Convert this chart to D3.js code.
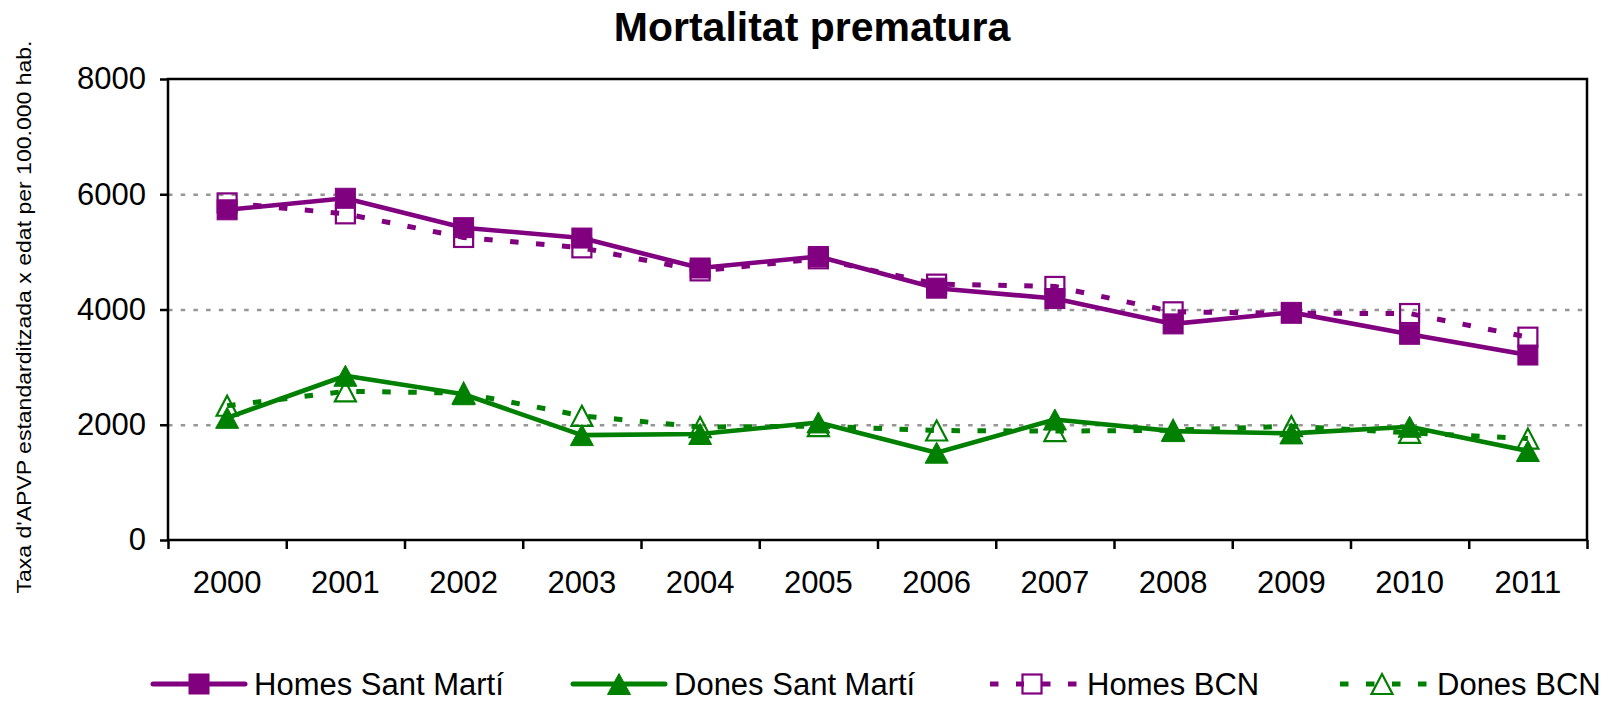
<!DOCTYPE html>
<html>
<head>
<meta charset="utf-8">
<script src="https://cdn.jsdelivr.net/npm/d3@7"></script>
<style>
  html, body { margin: 0; padding: 0; background: #fff; }
  svg { display: block; font-family: "Liberation Sans", Arial, sans-serif; }
</style>
</head>
<body>
<svg id="chart" width="1612" height="703"></svg>
<script>
// values
const years = ['2000', '2001', '2002', '2003', '2004', '2005', '2006', '2007', '2008', '2009', '2010', '2011'];
const homesSantMarti = [5730, 5930, 5420, 5240, 4720, 4920, 4370, 4190, 3750, 3950, 3570, 3210];
const donesSantMarti = [2120, 2850, 2530, 1820, 1840, 2040, 1515, 2090, 1890, 1850, 1965, 1545];
const homesBCN = [5850, 5660, 5250, 5070, 4670, 4880, 4440, 4400, 3960, 3935, 3930, 3520];
const donesBCN = [2330, 2580, 2550, 2155, 1960, 1975, 1900, 1890, 1905, 1975, 1860, 1760];
const yTicks = [0, 2000, 4000, 6000, 8000];
const gridTicks = [2000, 4000, 6000];

const purple = '#800080';
const green = '#008000';

const svg = d3.select('#chart');
const plot = { left: 168, right: 1587, top: 79, bottom: 540 };
const plotW = plot.right - plot.left;

const x = d3.scaleBand().domain(years).range([plot.left, plot.right]);
const xTick = d3.scaleLinear().domain([0, years.length]).range([plot.left, plot.right]);
const y = d3.scaleLinear().domain([0, 8000]).range([plot.bottom, plot.top]);
const cx = (d, i) => x(years[i]) + x.bandwidth() / 2;

// title
svg.append('text')
  .attr('x', 812).attr('y', 41)
  .attr('text-anchor', 'middle')
  .attr('font-size', 41).attr('font-weight', 'bold')
  .text('Mortalitat prematura');

// dotted gridlines
const grid = svg.append('g')
  .attr('transform', `translate(${plot.left},0)`)
  .call(d3.axisLeft(y).tickValues(gridTicks).tickSize(-plotW).tickFormat(''));
grid.select('.domain').remove();
grid.selectAll('line')
  .attr('stroke', '#969696')
  .attr('stroke-width', 2.6)
  .attr('stroke-dasharray', '4.5,8.2');

// plot frame
svg.append('rect')
  .attr('x', plot.left).attr('y', plot.top)
  .attr('width', plotW).attr('height', plot.bottom - plot.top)
  .attr('fill', 'none').attr('stroke', '#000').attr('stroke-width', 2.5);

// y axis
const yAxis = svg.append('g')
  .attr('transform', `translate(${plot.left},0)`)
  .call(d3.axisLeft(y).tickValues(yTicks).tickFormat(d3.format('d')).tickSize(8).tickPadding(14));
yAxis.select('.domain').remove();
yAxis.selectAll('line').attr('stroke', '#000').attr('stroke-width', 2.5);
yAxis.selectAll('text').attr('font-size', 31).attr('fill', '#000')
  .attr('font-family', '"Liberation Sans", Arial, sans-serif');

// x axis: ticks between categories, labels centred
const xTicks = svg.append('g')
  .attr('transform', `translate(0,${plot.bottom})`)
  .call(d3.axisBottom(xTick).tickValues(d3.range(years.length + 1)).tickSize(9).tickFormat(''));
xTicks.select('.domain').remove();
xTicks.selectAll('line').attr('stroke', '#000').attr('stroke-width', 2.5);

const xAxis = svg.append('g')
  .attr('transform', `translate(0,${plot.bottom})`)
  .call(d3.axisBottom(x).tickSize(0).tickPadding(31));
xAxis.select('.domain').remove();
xAxis.selectAll('text').attr('font-size', 31).attr('fill', '#000')
  .attr('font-family', '"Liberation Sans", Arial, sans-serif');

// y axis title
svg.append('text')
  .attr('transform', 'translate(31,317) rotate(-90)')
  .attr('text-anchor', 'middle')
  .attr('font-size', 21)
  .attr('textLength', 553)
  .attr('lengthAdjust', 'spacingAndGlyphs')
  .text("Taxa d'APVP estandarditzada x edat per 100.000 hab.");

// markers
function trianglePath(w, h) {
  return `M0,${-h / 2}L${w / 2},${h / 2}L${-w / 2},${h / 2}Z`;
}

const series = [
  { name: 'Homes BCN', values: homesBCN, color: purple, dashed: true, shape: 'square', filled: false },
  { name: 'Dones BCN', values: donesBCN, color: green, dashed: true, shape: 'triangle', filled: false },
  { name: 'Homes Sant Martí', values: homesSantMarti, color: purple, dashed: false, shape: 'square', filled: true },
  { name: 'Dones Sant Martí', values: donesSantMarti, color: green, dashed: false, shape: 'triangle', filled: true }
];

const line = d3.line().x(cx).y(d => y(d));

function drawMarker(g, s) {
  if (s.shape === 'square') {
    const size = s.filled ? 20 : 19;
    g.append('rect')
      .attr('x', -size / 2).attr('y', -size / 2)
      .attr('width', size).attr('height', size)
      .attr('fill', s.filled ? s.color : 'none')
      .attr('stroke', s.color)
      .attr('stroke-width', s.filled ? 1 : 2.2);
  } else {
    g.append('path')
      .attr('d', s.filled ? trianglePath(23, 21) : trianglePath(21, 20))
      .attr('fill', s.filled ? s.color : 'none')
      .attr('stroke', s.color)
      .attr('stroke-width', s.filled ? 1 : 2.2)
      .attr('stroke-linejoin', 'miter');
  }
}

// lines first (dashed then solid), then markers on top
series.forEach(s => {
  svg.append('path')
    .datum(s.values)
    .attr('d', line)
    .attr('fill', 'none')
    .attr('stroke', s.color)
    .attr('stroke-width', s.dashed ? 5 : 4.6)
    .attr('stroke-dasharray', s.dashed ? '8.5,17.5' : null)
    .attr('stroke-linejoin', 'round');
});

series.forEach(s => {
  svg.append('g').selectAll('g')
    .data(s.values)
    .enter().append('g')
    .attr('transform', (d, i) => `translate(${cx(d, i)},${y(d)})`)
    .each(function() { drawMarker(d3.select(this), s); });
});

// legend
const legendItems = [
  { s: series[2], x: 153 },
  { s: series[3], x: 573 },
  { s: series[0], x: 986 },
  { s: series[1], x: 1336 }
];
const legendY = 684;
const legendLineLen = 92;

legendItems.forEach(item => {
  const g = svg.append('g').attr('transform', `translate(${item.x},${legendY})`);
  g.append('line')
    .attr('x1', 0).attr('x2', legendLineLen)
    .attr('stroke', item.s.color)
    .attr('stroke-width', 5)
    .attr('stroke-dasharray', item.s.dashed ? '8.5,17.5' : null)
    .attr('stroke-dashoffset', item.s.dashed ? -4 : null)
    .attr('stroke-linecap', item.s.dashed ? 'butt' : 'round');
  const m = g.append('g').attr('transform', `translate(${legendLineLen / 2},0)`);
  if (!item.s.filled) {
    m.append(item.s.shape === 'square' ? 'rect' : 'path')
      .attr('x', -8).attr('y', -10).attr('width', 16).attr('height', 20)
      .attr('d', trianglePath(20, 20))
      .attr('fill', '#fff');
  }
  drawMarker(m, item.s);
  g.append('text')
    .attr('x', legendLineLen + 9).attr('y', 11)
    .attr('font-size', 31)
    .text(item.s.name);
});
</script>
</body>
</html>
